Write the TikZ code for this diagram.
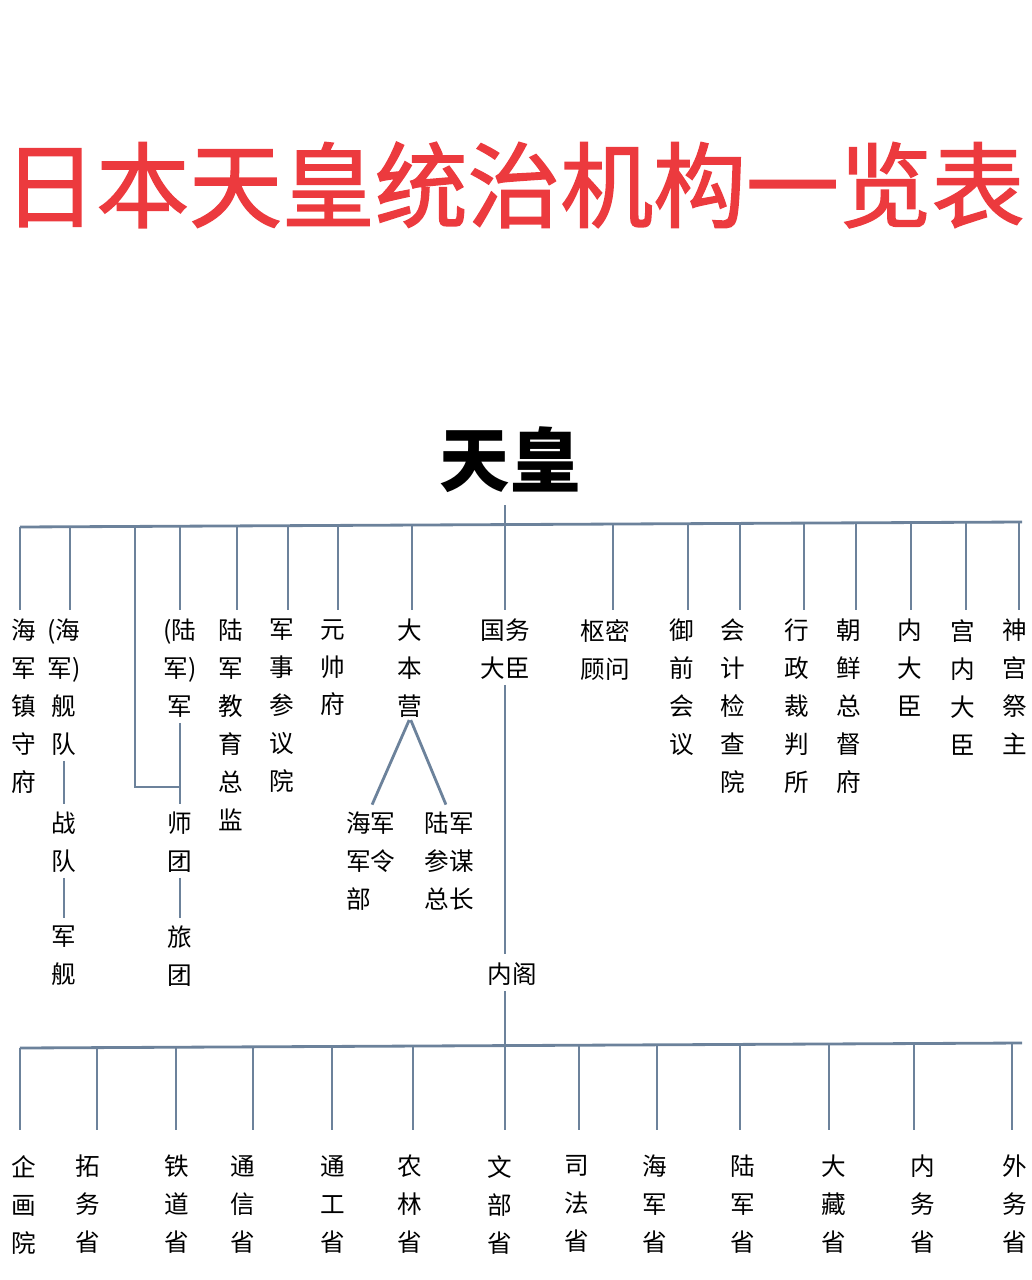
\documentclass[tikz,border=0pt]{standalone}
\usepackage{fontspec}
\setmainfont{Noto Sans CJK SC}
\newfontfamily\titlefont{Noto Sans CJK SC}[FakeBold=1.6]
\usetikzlibrary{positioning}
\definecolor{linec}{RGB}{108,130,155}
\definecolor{titler}{RGB}{236,58,62}
\tikzset{
  ln/.style={draw=linec,line width=2pt},
  link/.style={ln,shorten <=0.12cm,shorten >=0.2cm},
  lbl/.style={anchor=north,inner sep=0pt,align=center,font=\fontsize{17.5}{27}\selectfont},
}
\begin{document}
\begin{tikzpicture}[x=0.025cm,y=-0.025cm]
  \useasboundingbox (0,0) rectangle (1031,1280);
  \node[text=titler,font=\fontsize{66}{70}\titlefont] (title) at (514,185) {日本天皇统治机构一览表};
  \node[font=\fontsize{50}{55}\selectfont\bfseries] (tenno) at (510,460) {天皇};
  % upper level
  \draw[ln] (20,527) -- (1022,522);
  \draw[ln] (505,505) -- (505,608);
  \foreach \lx/\tx/\nm/\txt in {20/24/hjzsf/{海\\军\\镇\\守\\府}, 70/64/jd/{(海\\军)\\舰\\队},
      180/180/lj/{(陆\\军)\\军}, 237/231/jyzj/{陆\\军\\教\\育\\总\\监},
      288/282/jsyy/{军\\事\\参\\议\\院}, 338/333/ysf/{元\\帅\\府}, 412/410/dby/{大\\本\\营},
      505/505/gwdc/{国务\\大臣}, 613/605/smgw/{枢密\\顾问}, 688/682/yqhy/{御\\前\\会\\议},
      740/733/kjjc/{会\\计\\检\\查\\院}, 804/797/xzcp/{行\\政\\裁\\判\\所},
      856/849/cxzd/{朝\\鲜\\总\\督\\府}, 911/910/ndc/{内\\大\\臣},
      966/963/gndc/{宫\\内\\大\\臣}, 1019/1015/sgjz/{神\\宫\\祭\\主}}{
    \node[lbl] (\nm) at (\tx,619) {\txt};
    \draw[ln] (\lx,{527-0.005*(\lx-20)}) -- (\lx,610);
  }
  % navy and army chains
  \node[lbl] (zd) at (64,812) {战\\队};
  \node[lbl] (jj) at (64,926) {军\\舰};
  \draw[link] (jd.south) -- (zd.north);
  \draw[link] (zd.south) -- (jj.north);
  \node[lbl] (st) at (180,812) {师\\团};
  \node[lbl] (lt) at (180,926) {旅\\团};
  \draw[link] (lj.south) -- (st.north);
  \draw[link] (st.south) -- (lt.north);
  \draw[ln] (135,{527-0.005*115}) |- (180,787);
  % imperial headquarters
  \node[lbl,anchor=north west,align=left] (hjjl) at (346,812) {海军\\军令\\部};
  \node[lbl] (ljcm) at (449,812) {陆军\\参谋\\总长};
  \draw[link,shorten <=0.05cm] (dby.south) -- ([xshift=-0.05cm]hjjl.north);
  \draw[link,shorten <=0.05cm] (dby.south) -- (ljcm.north);
  % cabinet
  \node[lbl] (neige) at (512,962) {内阁};
  \draw[link] (gwdc.south) -- (gwdc.south |- neige.north);
  \draw[ln] ([yshift=-0.15cm]gwdc.south |- neige.south) -- (505,1047);
  % lower level
  \draw[ln] (20,1048) -- (1022,1043);
  \foreach \lx/\tx/\nm/\txt in {20/24/qhy/{企\\画\\院}, 97/88/tws/{拓\\务\\省},
      176/177/tds/{铁\\道\\省}, 253/243/txs/{通\\信\\省}, 332/333/tgs/{通\\工\\省},
      413/410/nls/{农\\林\\省}, 505/500/wbs/{文\\部\\省}, 579/577/sfs/{司\\法\\省},
      657/655/hjs/{海\\军\\省}, 740/743/ljs/{陆\\军\\省}, 829/834/dzs/{大\\藏\\省},
      914/923/nws/{内\\务\\省}, 1012/1015/wws/{外\\务\\省}}{
    \node[lbl] (\nm) at (\tx,1155) {\txt};
    \draw[ln] (\lx,{1048-0.005*(\lx-20)}) -- (\lx,1130);
  }
\end{tikzpicture}
\end{document}
